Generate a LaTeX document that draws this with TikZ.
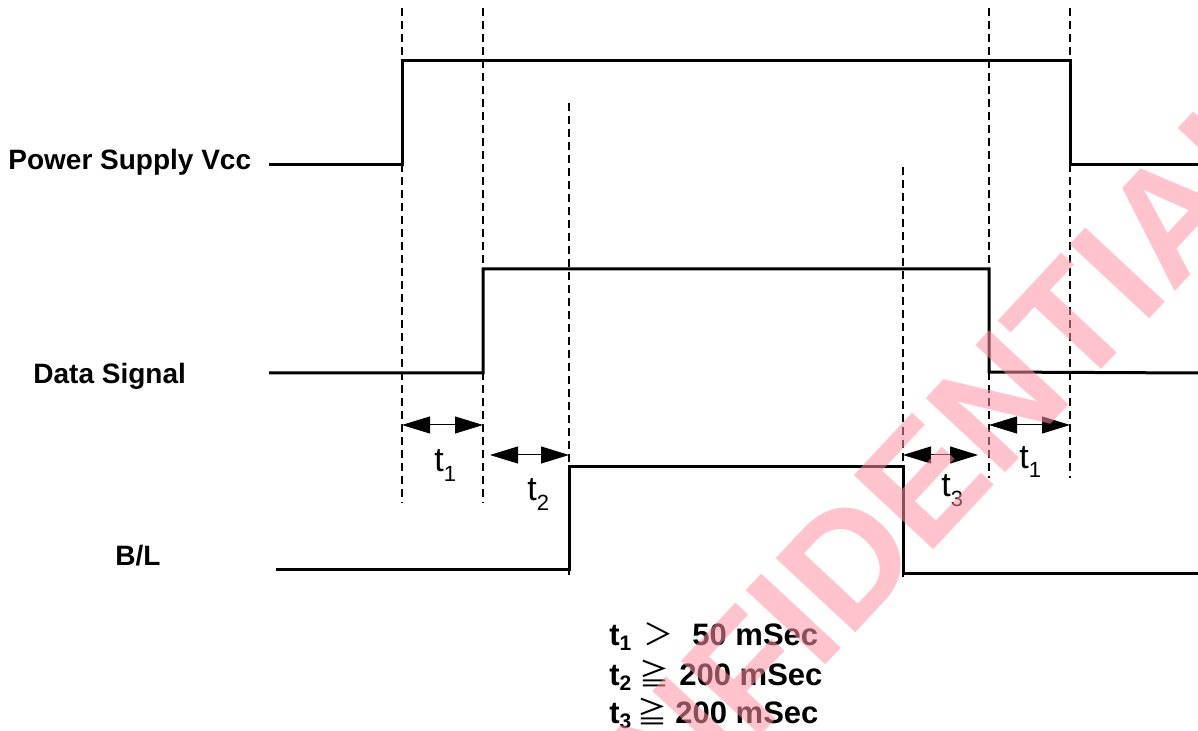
\documentclass[tikz,border=0pt]{standalone}
\usepackage{fontspec}
\setmainfont{Liberation Sans}
\newfontfamily\cjk{Noto Sans CJK SC}
\usetikzlibrary{arrows.meta}
\definecolor{wm}{RGB}{255,145,165}
\newcommand\tsubs[1]{t\raisebox{-5pt}{\fontsize{11pt}{11pt}\selectfont #1}}
\newcommand\lsubs[1]{t\raisebox{-2.5pt}{\fontsize{10.5pt}{10.5pt}\selectfont #1}}
\begin{document}
\begin{tikzpicture}[x=0.5pt,y=-0.5pt,
  sig/.style={line width=1.5pt, line join=miter},
  guide/.style={line width=0.6pt, dash pattern=on 4pt off 2.5pt},
  dim/.style={line width=0.5pt, {Triangle[length=14pt,width=8.5pt]}-{Triangle[length=14pt,width=8.5pt]}},
  lbl/.style={font=\fontsize{14pt}{16pt}\selectfont\bfseries, inner sep=0pt, anchor=base west},
  tl/.style={font=\fontsize{17pt}{19pt}\selectfont, inner sep=0pt, anchor=base west},
  leg/.style={font=\fontsize{15.5pt}{17pt}\selectfont\bfseries, inner sep=0pt, anchor=base west},
  rel/.style={font=\fontsize{15pt}{17pt}\selectfont\cjk, inner sep=0pt, anchor=base west},
  wmk/.style={rotate=47, text=wm, text opacity=0.55, font=\fontsize{79pt}{79pt}\selectfont\bfseries, inner sep=0pt}]
\useasboundingbox (0,0) rectangle (1198,731);
\clip (0,0) rectangle (1198,731);
% signal labels
\node[lbl] (lv) at (8,170) {Power Supply Vcc};
\node[lbl] (ld) at (33,384) {Data Signal};
\node[lbl] (lb) at (115,565) {B/L};
% guide lines
\coordinate (g1t) at (402,8);   \coordinate (g1b) at (402,503);
\coordinate (g2t) at (483,8);   \coordinate (g2b) at (483,503);
\coordinate (g3t) at (569,103); \coordinate (g3b) at (569,575);
\coordinate (g4t) at (903,167); \coordinate (g4b) at (903,577);
\coordinate (g5t) at (989,8);   \coordinate (g5b) at (989,478);
\coordinate (g6t) at (1070,8);  \coordinate (g6b) at (1070,478);
\foreach \i in {1,...,6} {\draw[guide] (g\i t) -- (g\i b);}
% Vcc
\coordinate (v0) at (269,165); \coordinate (v1) at (402,165); \coordinate (v2) at (402,61);
\coordinate (v3) at (1070,61); \coordinate (v4) at (1070,165); \coordinate (v5) at (1198,165);
\draw[sig] (v0) -- (v1) -- (v2) -- (v3) -- (v4) -- (v5);
% Data
\coordinate (d0) at (269,373); \coordinate (d1) at (483,373); \coordinate (d2) at (483,269);
\coordinate (d3) at (989,269); \coordinate (d4) at (989,372); \coordinate (d5) at (1198,373);
\draw[sig] (d0) -- (d1) -- (d2) -- (d3) -- (d4) -- (d5);
% B/L
\coordinate (b0) at (276,569); \coordinate (b1) at (569,569); \coordinate (b2) at (569,467);
\coordinate (b3) at (903,467); \coordinate (b4) at (903,573); \coordinate (b5) at (1198,573);
\draw[sig] (b0) -- (b1) -- (b2) -- (b3) -- (b4) -- (b5);
% dimension arrows
\coordinate (a1l) at (402,425); \coordinate (a1r) at (483,425);
\coordinate (a2l) at (490,455); \coordinate (a2r) at (569,455);
\coordinate (a3l) at (903,455); \coordinate (a3r) at (978,455);
\coordinate (a4l) at (989,425); \coordinate (a4r) at (1070,425);
\draw[dim] (a1l) -- (a1r);
\draw[dim] (a2l) -- (a2r);
\draw[dim] (a3l) -- (a3r);
\draw[dim] (a4l) -- (a4r);
\node[tl] (t1a) at (434,472) {\tsubs{1}};
\node[tl] (t2) at (527,501) {\tsubs{2}};
\node[tl] (t3) at (941,496) {\tsubs{3}};
\node[tl] (t1b) at (1019,468) {\tsubs{1}};
% legend
\node[leg] (l1a) at (609,645) {\lsubs{1}};
\node[rel] (l1b) at (643,645) {＞};
\node[leg] (l1c) at (692,645) {50 mSec};
\node[leg] (l2a) at (609,685) {\lsubs{2}};
\node[rel] (l2b) at (639,685) {≧};
\node[leg] (l2c) at (679,685) {200 mSec};
\node[leg] (l3a) at (609,723) {\lsubs{3}};
\node[rel] (l3b) at (637,723) {≧};
\node[leg] (l3c) at (675,723) {200 mSec};
% watermark
\node[wmk] (wmark) at (875,533) {CONFIDENTIAL};
\end{tikzpicture}
\end{document}
